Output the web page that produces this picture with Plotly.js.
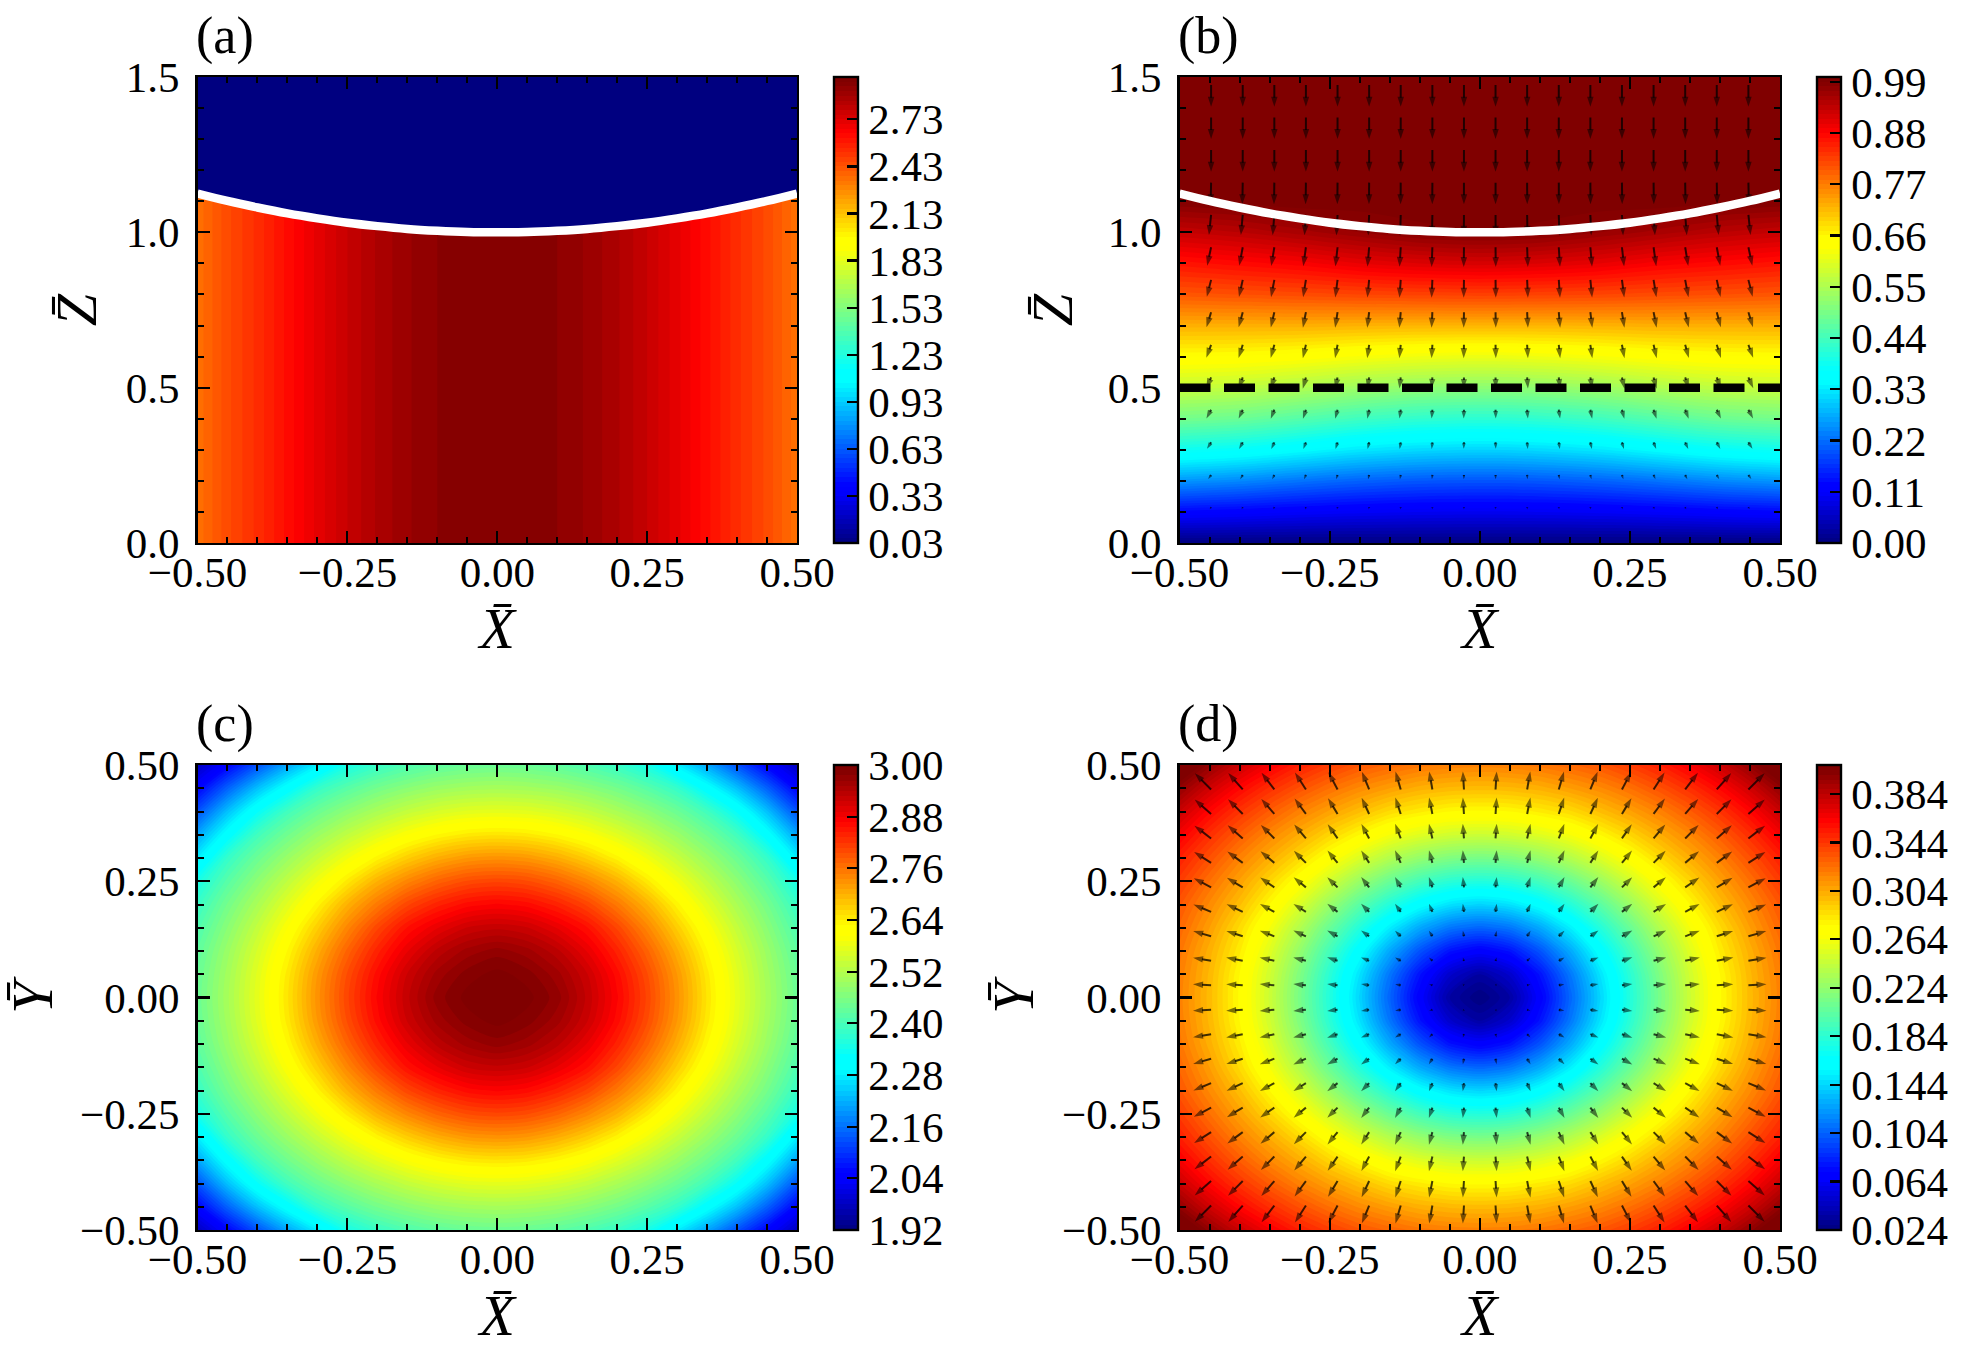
<!DOCTYPE html>
<html><head><meta charset="utf-8">
<script src="https://cdn.plot.ly/plotly-3.0.1.min.js"></script>
<style>html,body{margin:0;padding:0;background:#fff}</style></head>
<body><div id="chart" style="width:1964px;height:1357px"></div>
<script>
// ---------- values ----------
// interface curve, centre to edge
const halfX = [0,0.05,0.1,0.15,0.2,0.25,0.3,0.35,0.4,0.45,0.5];
const interfaceZ = [1,1.001,1.005,1.011,1.02,1.031,1.045,1.061,1.08,1.101,1.125];
// panel (a): value against |X|
const profileA = [2.97,2.962,2.94,2.905,2.855,2.79,2.71,2.62,2.53,2.45,2.35];
// panel (b): value on |X| = 0 .. 0.5 (cols), Z (rows)
const gridBX = [0,0.1,0.2,0.3,0.4,0.5];
const gridBZ = [0,0.1,0.2,0.3,0.4,0.5,0.6,0.7,0.8,0.9,1.0,1.1,1.2,1.5];
const fieldB = [
 [0,0,0,0,0,0],
 [.098,.1,.104,.11,.118,.125],
 [.197,.2,.21,.225,.243,.255],
 [.31,.315,.328,.35,.372,.385],
 [.415,.42,.435,.458,.48,.49],
 [.515,.52,.533,.552,.568,.575],
 [.615,.619,.628,.64,.648,.65],
 [.72,.72,.722,.725,.725,.725],
 [.825,.823,.82,.815,.81,.805],
 [.915,.91,.90,.885,.875,.865],
 [.99,.985,.97,.955,.94,.93],
 [1,1,1,1,.995,.99],
 [1,1,1,1,1,1],
 [1,1,1,1,1,1]];
// panel (c): value on the quadrant |X|, |Y| = 0 .. 0.5
const fieldC = [
 [3.0,2.993,2.97,2.925,2.87,2.805,2.73,2.65,2.575,2.505,2.44],
 [2.993,2.982,2.957,2.917,2.862,2.798,2.724,2.645,2.571,2.501,2.436],
 [2.97,2.957,2.932,2.891,2.839,2.776,2.704,2.629,2.558,2.491,2.425],
 [2.925,2.917,2.891,2.857,2.805,2.742,2.673,2.604,2.537,2.473,2.407],
 [2.87,2.862,2.839,2.805,2.755,2.70,2.634,2.571,2.509,2.45,2.382],
 [2.805,2.798,2.776,2.742,2.70,2.645,2.59,2.533,2.477,2.418,2.346],
 [2.73,2.724,2.704,2.673,2.634,2.59,2.541,2.491,2.44,2.379,2.28],
 [2.65,2.645,2.629,2.604,2.571,2.533,2.491,2.446,2.393,2.31,2.21],
 [2.575,2.571,2.558,2.537,2.509,2.477,2.44,2.393,2.325,2.235,2.13],
 [2.505,2.501,2.491,2.473,2.45,2.418,2.379,2.31,2.235,2.145,2.05],
 [2.44,2.436,2.425,2.407,2.382,2.346,2.28,2.21,2.13,2.05,1.98]];
// panel (d): value on the quadrant |X|, |Y| = 0 .. 0.5
const fieldD = [
 [.024,.036,.068,.105,.143,.18,.214,.247,.275,.298,.318],
 [.036,.049,.077,.111,.148,.183,.217,.249,.276,.299,.319],
 [.068,.077,.099,.128,.161,.193,.225,.255,.281,.302,.322],
 [.105,.111,.128,.152,.18,.208,.237,.264,.287,.308,.327],
 [.143,.148,.161,.18,.202,.227,.253,.276,.297,.315,.333],
 [.18,.183,.193,.208,.227,.249,.27,.289,.307,.324,.342],
 [.214,.217,.225,.237,.253,.27,.287,.303,.318,.335,.352],
 [.247,.249,.255,.264,.276,.289,.303,.316,.331,.347,.365],
 [.275,.276,.281,.287,.297,.307,.318,.331,.345,.361,.38],
 [.298,.299,.302,.308,.315,.324,.335,.347,.361,.378,.398],
 [.318,.319,.322,.327,.333,.342,.352,.365,.38,.398,.42]];
// arrow tails
const arrowGrid = [0.0263,0.0789,0.1316,0.1842,0.2368,0.2895,0.3421,0.3947,0.4474];
const arrowRowsB = [0.115,0.219,0.324,0.429,0.533,0.638,0.743,0.847,0.952,1.056,1.16,1.265,1.37,1.474];
// panel (b) arrows: outward and downward components, centre col to edge col
const arrowBOut = [
 [.003,.011,.018,.025,.033,.04,.048,.056,.064],
 [.007,.021,.036,.051,.067,.084,.099,.116,.133],
 [.01,.03,.05,.072,.094,.118,.141,.164,.187],
 [.011,.035,.059,.084,.11,.137,.162,.189,.215],
 [.012,.037,.064,.089,.117,.144,.171,.198,.224],
 [.013,.038,.064,.089,.116,.142,.168,.194,.219],
 [.012,.037,.063,.088,.113,.138,.163,.188,.212],
 [.012,.036,.058,.081,.106,.129,.151,.174,.195],
 [.011,.034,.055,.077,.099,.12,.14,.16,.18],
 [.006,.018,.03,.042,.053,.064,.075,.086,.098],
 [.001,.004,.006,.008,.011,.013,.015,.018,.02],
 [0,0,0,0,0,0,0,0,0],
 [0,0,0,0,0,0,0,0,0],
 [0,0,0,0,0,0,0,0,0]];
const arrowBDown = [
 [.098,.098,.098,.098,.097,.097,.096,.095,.092],
 [.196,.196,.196,.197,.199,.2,.197,.194,.19],
 [.30,.301,.304,.307,.309,.31,.309,.305,.299],
 [.405,.406,.409,.411,.416,.416,.414,.41,.404],
 [.51,.51,.512,.514,.517,.517,.514,.509,.502],
 [.615,.615,.616,.617,.617,.616,.613,.609,.601],
 [.72,.719,.718,.717,.715,.712,.706,.70,.693],
 [.825,.823,.82,.816,.811,.805,.798,.789,.781],
 [.915,.911,.904,.897,.887,.877,.867,.856,.847],
 [.96,.958,.955,.95,.945,.94,.935,.93,.925],
 [1,1,1,1,.999,.998,.997,.996,.995],
 [1,1,1,1,1,1,1,1,1],
 [1,1,1,1,1,1,1,1,1],
 [1,1,1,1,1,1,1,1,1]];
// panel (d) arrows: component along |X| (row = |Y|, col = |X|); the other is its transpose
const arrowDX = [
 [.023,.054,.091,.131,.170,.207,.241,.271,.296],
 [.018,.054,.093,.132,.171,.207,.241,.271,.296],
 [.018,.056,.093,.132,.170,.206,.239,.268,.293],
 [.019,.056,.094,.132,.169,.204,.236,.264,.289],
 [.019,.057,.094,.131,.168,.201,.232,.259,.283],
 [.019,.056,.094,.130,.165,.197,.227,.253,.278],
 [.019,.056,.092,.127,.161,.192,.220,.247,.273],
 [.018,.054,.089,.123,.156,.186,.214,.241,.269],
 [.018,.052,.086,.119,.150,.180,.209,.237,.266]];
// colour bar ticks
const ticksA = [0.03,0.33,0.63,0.93,1.23,1.53,1.83,2.13,2.43,2.73];
const ticksB = [0,0.11,0.22,0.33,0.44,0.55,0.66,0.77,0.88,0.99];
const ticksC = [1.92,2.04,2.16,2.28,2.40,2.52,2.64,2.76,2.88,3.00];
const ticksD = [0.024,0.064,0.104,0.144,0.184,0.224,0.264,0.304,0.344,0.384];
const dashLevel = 0.5;

// ---------- drawing ----------
const W=1964,H=1357;
const FONT='"Liberation Serif", serif', TICK=43;
const jet=[[0,'rgb(0,0,128)'],[0.11,'rgb(0,0,255)'],[0.125,'rgb(0,0,255)'],[0.35,'rgb(0,255,255)'],[0.375,'rgb(0,255,255)'],[0.64,'rgb(255,255,0)'],[0.66,'rgb(255,255,0)'],[0.89,'rgb(255,0,0)'],[1,'rgb(128,0,0)']];
const cols=[[197.5,797],[1179.5,1780]], rows=[[77,543],[765,1230]];
const cbarX=[834,1817], CBW=24;
const mirrorRow=r=>[...r.slice(1).reverse(),...r];
const mirrorAxis=r=>[...r.slice(1).reverse().map(v=>-v),...r];
const mirrorGrid=g=>mirrorRow(g.map(mirrorRow));

function contour(id,x,y,z,c,ticks,col,row,fmt){
  return {type:'contour',x,y,z,xaxis:'x'+(id||''),yaxis:'y'+(id||''),zmin:c.min,zmax:c.max,zauto:false,
    autocontour:false,contours:{start:c.min,end:c.max-c.size,size:c.size,coloring:'fill',showlines:false},
    line:{width:0,smoothing:0.8},colorscale:jet,hoverinfo:'skip',
    colorbar:{x:cbarX[col]/W,xanchor:'left',xref:'paper',y:1-(rows[row][0]+rows[row][1])/2/H,yref:'paper',yanchor:'middle',
      len:(rows[row][1]-rows[row][0])/H,lenmode:'fraction',thickness:CBW,thicknessmode:'pixels',xpad:0,ypad:0,
      outlinewidth:2.4,outlinecolor:'#000',borderwidth:0,tickmode:'array',tickvals:ticks,ticktext:ticks.map(v=>v.toFixed(fmt)),
      ticks:'inside',ticklen:12,tickwidth:2.2,tickcolor:'#000',tickfont:{family:FONT,size:TICK,color:'#000'}}};
}
function quiver(id,tx,ty,ux,uy,scale,pxX,pxY){
  const sx=[],sy=[],hx=[],hy=[],ang=[],size=[];
  for(let i=0;i<tx.length;i++){
    const dx=ux[i]*scale,dy=uy[i]*scale,L=Math.hypot(dx,dy);
    const head=Math.min(10,L*0.85),f=L>0?(L-head*0.9)/L:0;
    sx.push(tx[i],tx[i]+dx*f/pxX,null);
    sy.push(ty[i],ty[i]+dy*f/pxY,null);
    hx.push(tx[i]+dx/pxX);hy.push(ty[i]+dy/pxY);
    ang.push(Math.atan2(dx,dy)*180/Math.PI);size.push(head/0.95);
  }
  const ink='rgba(0,0,0,0.75)';
  return [{type:'scatter',mode:'lines',x:sx,y:sy,xaxis:'x'+id,yaxis:'y'+id,line:{color:ink,width:2},hoverinfo:'skip',showlegend:false},
          {type:'scatter',mode:'markers',x:hx,y:hy,xaxis:'x'+id,yaxis:'y'+id,hoverinfo:'skip',showlegend:false,
           marker:{symbol:'arrow',size:size,angle:ang,color:ink,line:{width:0}}}];
}
const fullX=mirrorAxis(halfX), fullIface=mirrorRow(interfaceZ);
const whiteLine=id=>({type:'scatter',mode:'lines',x:fullX,y:fullIface,xaxis:'x'+id,yaxis:'y'+id,line:{color:'#fff',width:8.5,shape:'spline'},hoverinfo:'skip',showlegend:false});

const traces=[];
// (a)
const rowA=mirrorRow(profileA);
traces.push(contour('',fullX,[0,1.5],[rowA,rowA],{min:0.03,max:3.0,size:0.03},ticksA,0,0,2));
traces.push({type:'scatter',mode:'lines',x:[...fullX,0.5,-0.5],y:[...fullIface,1.5,1.5],fill:'toself',fillcolor:'rgb(0,0,128)',line:{width:0},hoverinfo:'skip',showlegend:false});
traces.push(whiteLine(''));
// (b)
traces.push(contour('2',mirrorAxis(gridBX),gridBZ,fieldB.map(mirrorRow),{min:0,max:1,size:0.01},ticksB,1,0,2));
{
 const tx=[],ty=[],ux=[],uy=[];
 arrowRowsB.forEach((z,r)=>{ arrowGrid.forEach((x,c)=>{ [-1,1].forEach(s=>{
   tx.push(s*x);ty.push(z);ux.push(s*arrowBOut[r][c]);uy.push(-arrowBDown[r][c]);
 });});});
 traces.push(...quiver('2',tx,ty,ux,uy,21.7,600.5,466/1.5));
}
traces.push(whiteLine('2'));
traces.push({type:'scatter',mode:'lines',x:[-0.5,0.5],y:[dashLevel,dashLevel],xaxis:'x2',yaxis:'y2',line:{color:'#000',width:8.5,dash:'31px,13.5px'},hoverinfo:'skip',showlegend:false});
// (c)
const fullGrid=mirrorAxis(halfX);
traces.push(contour('3',fullGrid,fullGrid,mirrorGrid(fieldC),{min:1.92,max:3.0,size:0.012},ticksC,0,1,2));
// (d)
traces.push(contour('4',fullGrid,fullGrid,mirrorGrid(fieldD),{min:0.024,max:0.408,size:0.004},ticksD,1,1,3));
{
 const tx=[],ty=[],ux=[],uy=[];
 arrowGrid.forEach((y,r)=>{ arrowGrid.forEach((x,c)=>{ [-1,1].forEach(sx=>{ [-1,1].forEach(sy=>{
   tx.push(sx*x);ty.push(sy*y);ux.push(sx*arrowDX[r][c]);uy.push(sy*arrowDX[c][r]);
 });});});});
 traces.push(...quiver('4',tx,ty,ux,uy,61,600.5,465));
}

function xax(col,row,anchor){return {domain:[cols[col][0]/W,cols[col][1]/W],anchor,range:[-0.5,0.5],dtick:0.25,tick0:0,tickformat:'.2f',
  ticks:'inside',ticklen:12,tickwidth:2.2,tickcolor:'#000',mirror:'ticks',showline:true,linecolor:'#000',linewidth:2.4,showgrid:false,zeroline:false,
  ticklabelstandoff:-10,tickfont:{family:FONT,size:TICK,color:'#000'},
  minor:{ticks:'inside',ticklen:6,tickwidth:2,tickcolor:'#000',dtick:0.05,tick0:0,showgrid:false},
  title:{text:'<i>X\u0304</i>',font:{family:FONT,size:58,color:'#000'},standoff:6}};}
function yax(col,row,anchor,range,dt,mdt,fmt,so){return {domain:[1-rows[row][1]/H,1-rows[row][0]/H],anchor,range,dtick:dt,tick0:0,tickformat:fmt,
  ticks:'inside',ticklen:12,tickwidth:2.2,tickcolor:'#000',mirror:'ticks',showline:true,linecolor:'#000',linewidth:2.4,showgrid:false,zeroline:false,
  ticklabelstandoff:7,tickfont:{family:FONT,size:TICK,color:'#000'},
  minor:{ticks:'inside',ticklen:6,tickwidth:2,tickcolor:'#000',dtick:mdt,tick0:0,showgrid:false},
  title:{text:row?'<i>Y\u0304</i>':'<i>Z\u0304</i>',font:{family:FONT,size:58,color:'#000'},standoff:so}};}
const lab=(t,id)=>({text:t,showarrow:false,xref:'x'+id+' domain',yref:'y'+id+' domain',x:0,y:1,xanchor:'left',yanchor:'bottom',yshift:10,xshift:-4,font:{family:FONT,size:52,color:'#000'}});
const layout={width:W,height:H,margin:{l:0,r:0,t:0,b:0,autoexpand:false},paper_bgcolor:'#fff',plot_bgcolor:'#fff',showlegend:false,
  xaxis:xax(0,0,'y'),yaxis:yax(0,0,'x',[0,1.5],0.5,0.1,'.1f',11),
  xaxis2:xax(1,0,'y2'),yaxis2:yax(1,0,'x2',[0,1.5],0.5,0.1,'.1f',17),
  xaxis3:xax(0,1,'y3'),yaxis3:yax(0,1,'x3',[-0.5,0.5],0.25,0.05,'.2f',15),
  xaxis4:xax(1,1,'y4'),yaxis4:yax(1,1,'x4',[-0.5,0.5],0.25,0.05,'.2f',10),
  annotations:[lab('(a)',''),lab('(b)','2'),lab('(c)','3'),lab('(d)','4')]};
Plotly.newPlot('chart',traces,layout,{staticPlot:true,displayModeBar:false});
</script></body></html>
